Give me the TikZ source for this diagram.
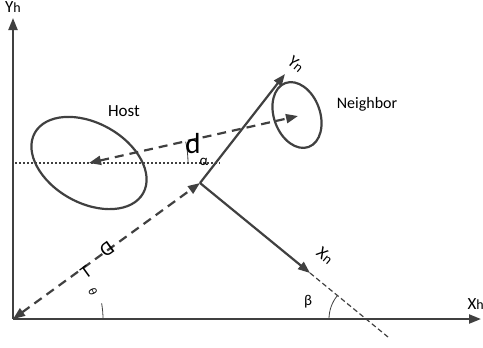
\documentclass[tikz,border=0pt]{standalone}
\usepackage{fontspec}
\setmainfont{Carlito}
\usetikzlibrary{arrows.meta,shapes.geometric}
\definecolor{ink}{HTML}{404040}
\tikzset{
  axis/.style={draw=ink, line width=2.2bp, -{Triangle[length=12bp,width=9bp]}},
  dashline/.style={draw=ink, line width=2.2bp, dash pattern=on 9bp off 6bp, {Triangle[length=12bp,width=9bp]}-{Triangle[length=12bp,width=9bp]}},
  thindash/.style={draw=ink, line width=1.2bp, dash pattern=on 5bp off 3bp},
  dotline/.style={draw=ink, line width=1.1bp, dash pattern=on 2bp off 2bp},
  blob/.style={ellipse, draw=ink, line width=2.2bp, inner sep=0pt},
  anglearc/.style={draw=ink, line width=0.8bp},
  lbl/.style={inner sep=0pt, text=black, font=\fontsize{17bp}{20bp}\selectfont}
}
\begin{document}
\begin{tikzpicture}[x=1bp,y=-1bp]
\useasboundingbox (0,0) rectangle (483,347);
% coordinates
\coordinate (O) at (13,319);
\coordinate (yh) at (13,18);
\coordinate (xh) at (481,319);
\coordinate (P) at (200,183);
\coordinate (yn) at (285,74);
\coordinate (xn) at (310,273);
\coordinate (xnend) at (388,337);
\coordinate (H) at (89,163);
\coordinate (N) at (298,116);
\coordinate (dotL) at (15,163);
\coordinate (dotR) at (220,163);
% ellipses
\node[blob, minimum width=124bp, minimum height=80bp, rotate=-29] (host) at (89,163) {};
\node[blob, minimum width=46bp, minimum height=68bp, rotate=20] (nbr) at (297,115) {};
% axes
\draw[axis] (O) -- (yh);
\draw[axis] (O) -- (xh);
\draw[axis] (P) -- (yn);
\draw[axis] (P) -- (xn);
\draw[thindash] (xn) -- (xnend);
% dotted horizontal
\draw[dotline] (dotL) -- (dotR);
% dashed distance lines
\draw[dashline] (H) -- (N);
\draw[dashline] (O) -- (P);
% angle arcs
\draw[anglearc] (188,163) arc[start angle=0, end angle=-12.5, radius=99];
\draw[anglearc] (103,319) arc[start angle=0, end angle=-10, radius=90];
\draw[anglearc] (329,319) arc[start angle=180, end angle=219, radius=37];
% labels
\node[lbl, anchor=north west] (lyh) at (5,1.5) {Y\fontsize{14bp}{16bp}\selectfont h};
\node[lbl, anchor=east] (lxh) at (484,304) {X\fontsize{14bp}{16bp}\selectfont h};
\node[lbl] (lhost) at (124,111) {Host};
\node[lbl, font=\fontsize{16bp}{19bp}\selectfont] (lnbr) at (367,104) {Neighbor};
\node[lbl, font=\fontsize{29bp}{32bp}\selectfont] (ld) at (193,144) {d};
\node[lbl, font=\fontsize{15bp}{17bp}\selectfont] (la) at (204,162) {α};
\node[lbl, rotate=216, font=\fontsize{20bp}{24bp}\selectfont] (lD) at (107,249) {D};
\node[lbl, rotate=36, font=\fontsize{18bp}{22bp}\selectfont] (lT) at (86,272) {T};
\node[lbl, rotate=-66, font=\fontsize{12bp}{14bp}\selectfont] (lth) at (93,292) {θ};
\node[lbl, font=\fontsize{15bp}{18bp}\selectfont] (lb) at (308,302) {β};
\node[lbl, rotate=-40] (lyn) at (296,64) {Y\fontsize{14bp}{16bp}\selectfont n};
\node[lbl, rotate=-40] (lxn) at (325,256) {X\fontsize{14bp}{16bp}\selectfont n};
\end{tikzpicture}
\end{document}
